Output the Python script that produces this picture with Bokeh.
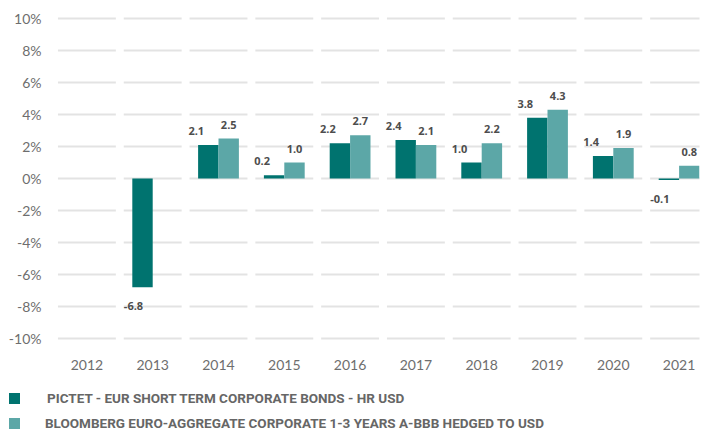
import numpy as np
from bokeh.plotting import figure
from bokeh.layouts import column
from bokeh.models import FixedTicker, ColumnDataSource, Div
from bokeh.core.properties import value
from bokeh.embed import file_html
from bokeh.resources import INLINE

years = ["2012", "2013", "2014", "2015", "2016", "2017", "2018", "2019", "2020", "2021"]
pictet = [np.nan, -6.8, 2.1, 0.2, 2.2, 2.4, 1.0, 3.8, 1.4, -0.1]
bench = [np.nan, np.nan, 2.5, 1.0, 2.7, 2.1, 2.2, 4.3, 1.9, 0.8]
y_ticks = [-10, -8, -6, -4, -2, 0, 2, 4, 6, 8, 10]
y_labels = [f"{t}%" for t in y_ticks]
series_names = ["PICTET - EUR SHORT TERM CORPORATE BONDS - HR USD",
                "BLOOMBERG EURO-AGGREGATE CORPORATE 1-3 YEARS A-BBB HEDGED TO USD"]

DARK = "#00736f"
LIGHT = "#5ca7a7"
GRID = "#e3e3e3"
TICK_COL = "#6e6e6e"
LBL_COL = "#4d4d4d"

idx = np.arange(len(years), dtype=float)
bw = 0.31
off = 0.155

p = figure(frame_width=643, frame_height=336, output_backend="svg", toolbar_location=None,
           x_range=(-0.462, 9.31), y_range=(-10.5, 10.5),
           min_border_left=56, min_border_right=3, min_border_top=10, min_border_bottom=38)
p.outline_line_color = None
p.xgrid.visible = False
p.ygrid.visible = False
p.background_fill_color = None
p.border_fill_color = "white"

# segmented gridlines per category
gx, gy = np.meshgrid(idx, np.array(y_ticks, dtype=float))
gx = gx.ravel(); gy = gy.ravel()
p.segment(x0=gx - 0.44, x1=gx + 0.44, y0=gy, y1=gy, line_color=GRID, line_width=2)

pv = np.array(pictet, dtype=float)
bv = np.array(bench, dtype=float)
m1 = ~np.isnan(pv)
m2 = ~np.isnan(bv)

p.vbar(x=idx[m1] - off, top=pv[m1], bottom=0, width=bw, fill_color=DARK, line_color=None)
p.vbar(x=idx[m2] + off, top=bv[m2], bottom=0, width=bw, fill_color=LIGHT, line_color=None)

def add_labels(xs, vals, xoff_pos, xoff_neg):
    vals = np.asarray(vals)
    src = ColumnDataSource(dict(
        x=xs, y=vals,
        t=[f"{v:.1f}" for v in vals],
        xo=[xoff_pos if v >= 0 else xoff_neg for v in vals],
        yo=[-14 if v >= 0 else 19 for v in vals]))
    p.text(x="x", y="y", text="t", x_offset="xo", y_offset="yo", source=src,
           text_align="center", text_baseline="middle",
           text_font=value("Open Sans"), text_font_style="bold",
           text_font_size="11px", text_color=LBL_COL)

add_labels(idx[m1] - off, pv[m1], -12, -9)
add_labels(idx[m2] + off, bv[m2], 0, 0)

# axes
p.xaxis.ticker = FixedTicker(ticks=list(idx))
p.xaxis.major_label_overrides = {float(i): y for i, y in zip(idx, years)}
p.yaxis.ticker = FixedTicker(ticks=y_ticks)
p.yaxis.major_label_overrides = {t: l for t, l in zip(y_ticks, y_labels)}
for ax in (p.xaxis[0], p.yaxis[0]):
    ax.axis_line_color = None
    ax.major_tick_line_color = None
    ax.minor_tick_line_color = None
    ax.major_tick_out = 0
    ax.major_tick_in = 0
    ax.minor_tick_out = 0
    ax.minor_tick_in = 0
    ax.major_label_text_font = "Lato"
    ax.major_label_text_font_size = "14px"
    ax.major_label_text_color = TICK_COL
p.yaxis.major_label_standoff = 15
p.xaxis.major_label_standoff = 13

# legend as HTML below the plot
rows = "".join(
    f'<div style="display:flex;align-items:center;height:25px;">'
    f'<span style="display:inline-block;width:11px;height:11px;background:{c};'
    f'margin-left:9px;margin-right:{mr}px;"></span>'
    f'<span>{name}</span></div>'
    for name, c, mr in zip(series_names, [DARK, LIGHT], [27, 25]))
legend_div = Div(text=(f'<div style="padding-top:2px;font-family:Roboto;font-weight:bold;'
                       f'font-size:13.5px;color:#666666;white-space:nowrap;line-height:1;">'
                       f'{rows}</div>'),
                 width=695, height=49, margin=(0, 0, 0, 0))

layout = column(p, legend_div, spacing=0)
open("out.html", "w").write(file_html(layout, INLINE))
